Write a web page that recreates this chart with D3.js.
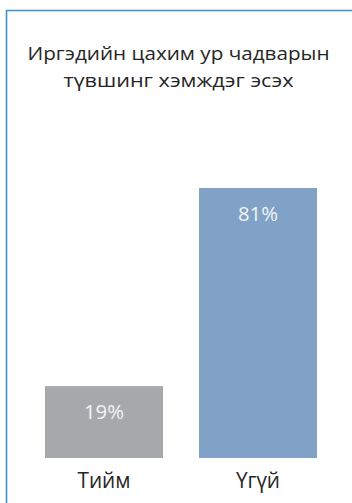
<!DOCTYPE html>
<html>
<head>
<meta charset="utf-8">
<script src="https://cdn.jsdelivr.net/npm/d3@7"></script>
<style>
  html, body { margin: 0; padding: 0; background: #ffffff; }
  svg { display: block; }
</style>
</head>
<body>
<svg id="chart" width="352" height="503"></svg>
<script>
const titleLines = ["Иргэдийн цахим ур чадварын", "түвшинг хэмждэг эсэх"];
const categories = ["Тийм", "Үгүй"];
const values = [19, 81];
const valueLabels = ["19%", "81%"];
const barColors = ["#a7a8ab", "#7fa2c6"];
const yDomain = [-3.5, 81];

const svg = d3.select("#chart");
const W = 352, H = 503;
const font = "'Open Sans', 'Noto Sans', sans-serif";

// compress a group of texts horizontally by a common factor so the first spans `target`
function condense(sel, target) {
  const nodes = sel.nodes();
  const k = target / nodes[0].getComputedTextLength();
  nodes.forEach(n => {
    const w = n.getComputedTextLength();
    d3.select(n).attr("textLength", (w * k).toFixed(2)).attr("lengthAdjust", "spacingAndGlyphs");
  });
}

// frame (left and top edges visible)
svg.append("path")
  .attr("d", `M6.5,${H} L6.5,10.5 L${W},10.5`)
  .attr("fill", "none")
  .attr("stroke", "#3f91c9")
  .attr("stroke-width", 1.6);

// title
const titleSpans = [302, 230];
const titleText = svg.append("g").selectAll("text")
  .data(titleLines)
  .join("text")
  .attr("x", 178.5)
  .attr("y", (d, i) => 59.5 + i * 27.3)
  .attr("text-anchor", "middle")
  .attr("font-family", font)
  .attr("font-size", 18.6)
  .attr("fill", "#262626")
  .text(d => d);
titleText.each(function (d, i) { condense(d3.select(this), titleSpans[i]); });

const x = d3.scaleBand()
  .domain(categories)
  .range([27, 335])
  .paddingInner(36 / 154)
  .paddingOuter(18 / 154);

const y = d3.scaleLinear()
  .domain(yDomain)
  .range([458, 188]);

const data = categories.map((c, i) => ({ c, v: values[i], label: valueLabels[i], color: barColors[i] }));

svg.append("g").selectAll("rect")
  .data(data)
  .join("rect")
  .attr("x", d => x(d.c))
  .attr("y", d => y(d.v))
  .attr("width", x.bandwidth())
  .attr("height", d => y(yDomain[0]) - y(d.v))
  .attr("fill", d => d.color);

const vl = svg.append("g").selectAll("text")
  .data(data)
  .join("text")
  .attr("x", d => x(d.c) + x.bandwidth() / 2)
  .attr("y", d => y(d.v) + 32.5)
  .attr("text-anchor", "middle")
  .attr("font-family", font)
  .attr("font-size", 20.5)
  .attr("fill", "#f4f4f4")
  .text(d => d.label);
condense(vl, 40);

// category axis labels
const xAxis = d3.axisBottom(x).tickSize(0).tickPadding(0);
const gx = svg.append("g")
  .attr("transform", "translate(0,458)")
  .call(xAxis);
gx.select(".domain").remove();
const cl = gx.selectAll("text")
  .attr("font-family", font)
  .attr("font-size", 21.5)
  .attr("fill", "#262626")
  .attr("dy", null)
  .attr("y", 29.7);
condense(cl, 53);
</script>
</body>
</html>
